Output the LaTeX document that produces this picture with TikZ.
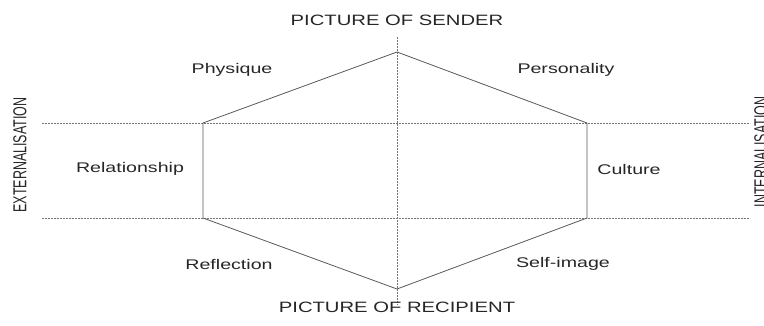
\documentclass[tikz,border=0pt]{standalone}
\usepackage{fontspec}
\setmainfont{Liberation Sans}
\usepackage{graphicx}
\usetikzlibrary{positioning}

% wide lettering
\newcommand{\wide}[2][1.4]{\scalebox{#1}[1]{#2}}

\begin{document}
\begin{tikzpicture}[x=1pt,y=1pt,
		side/.style={draw=black!65, line width=0.8pt},
		guide/.style={draw=black!55, line width=0.6pt, dash pattern=on 2pt off 1pt},
		lbl/.style={text=black!85, font=\fontsize{14}{16}\selectfont, inner sep=0pt},
		title/.style={text=black!85, font=\fontsize{15}{17}\selectfont, inner sep=0pt}]
			\useasboundingbox (0,0) rectangle (764,325);

			% corners of the hexagon
			\coordinate (top) at (397,273);
			\coordinate (ul) at (203,202);
			\coordinate (ll) at (203,107);
			\coordinate (bot) at (397,36);
			\coordinate (lr) at (587,107);
			\coordinate (ur) at (587,202);

			% free ends of the dashed axes
			\coordinate (n) at (397,288);
			\coordinate (s) at (397,20);
			\coordinate (w1) at (42,202);
			\coordinate (e1) at (750,202);
			\coordinate (w2) at (42,107);
			\coordinate (e2) at (750,107);

			\draw[guide] (n) -- (s);
			\draw[guide] (w1) -- (e1);
			\draw[guide] (w2) -- (e2);

			\draw[side] (top) -- (ul) -- (ll) -- (bot) -- (lr) -- (ur) -- cycle;

			% facets around the prism
			\foreach \name/\x/\y/\txt in {phys/232/255/Physique, pers/566/255/Personality,
					rel/130/156/Relationship, cult/629/156/Culture,
					refl/229/61/Reflection, self/563/61/Self-image}
				{\node[lbl] (\name) at (\x,\y) {\wide{\txt}};}

			\node[title] (sender) at (397,304.5) {\wide[1.35]{PICTURE OF SENDER}};
			\node[title] (recip) at (397,17.5) {\wide[1.35]{PICTURE OF RECIPIENT}};

			\node[title, rotate=90, font=\fontsize{12.5}{14}\selectfont] (ext) at (20,170) {\scalebox{1}[1.5]{EXTERNALISATION}};
			\node[title, rotate=90, font=\fontsize{12.5}{14}\selectfont] (int) at (761,173) {\scalebox{1}[1.5]{INTERNALISATION}};
		\end{tikzpicture}
\end{document}
